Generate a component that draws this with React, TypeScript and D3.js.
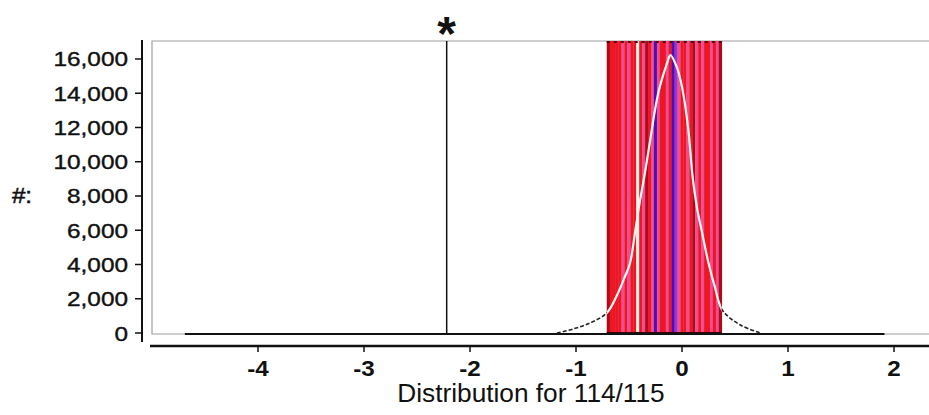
import React from "react";
import * as d3 from "d3";

const xTicks = [-4, -3, -2, -1, 0, 1, 2];
const yTicks = [0, 2000, 4000, 6000, 8000, 10000, 12000, 14000, 16000];

// density curve (value, count)
const densX = [-1.18, -1.03, -0.87, -0.71, -0.62, -0.54, -0.49, -0.44, -0.40, -0.35, -0.30, -0.25, -0.21, -0.14, -0.11, -0.05, 0.0, 0.06, 0.10, 0.14, 0.19, 0.25, 0.31, 0.38, 0.55, 0.74];
const densY = [0, 230, 580, 1170, 2120, 3270, 4090, 6000, 7600, 9340, 11270, 13200, 14370, 15770, 16230, 15540, 14370, 11850, 9110, 7360, 5840, 4090, 2690, 1340, 470, 0];

const bandRange = [-0.71, 0.375];
// stripe colour categories across the band (R red, P pink, D dark red, B blue, M magenta, W white)
const stripes = ["D","R","R","R","R","P","R","P","R","R","W","R","P","D","R","P","B","P","R","R","P","R","B","M","P","R","R","P","R","D","P","R","P","R","R","P","R","P","D"];

const markerValue = -2.22;
const baselineRange = [-4.69, 1.91];

const stripeColor: Record<string, string> = {
  R: "#ec1624",
  P: "#f04c92",
  D: "#b00a18",
  B: "#4a12b4",
  M: "#a030d0",
  W: "#fff6e8",
};

export default function App() {
  const W = 929, H = 415;
  const x = d3.scaleLinear().domain([-5, 2.33]).range([152, 929]);
  const y = d3.scaleLinear().domain([0, 17050]).range([333, 41]);
  const pts: [number, number][] = densX.map((v, i) => [v, densY[i]]);
  const line = d3.line<[number, number]>().x(d => x(d[0])).y(d => y(d[1])).curve(d3.curveCatmullRom);
  const path = line(pts) || "";
  const bx0 = x(bandRange[0]), bx1 = x(bandRange[1]);
  const bw = (bx1 - bx0) / stripes.length;
  const font = "'Liberation Sans', Arial, sans-serif";

  return (
    <svg width={W} height={H} style={{ position: "absolute", left: 0, top: 0, background: "#fff" }} fontFamily={font}>
      <defs>
        <clipPath id="band">
          <rect x={bx0} y={y(17050)} width={bx1 - bx0} height={y(0) - y(17050)} />
        </clipPath>
        <clipPath id="outside">
          <rect x={0} y={0} width={bx0} height={H} />
          <rect x={bx1} y={0} width={W - bx1} height={H} />
        </clipPath>
      </defs>
      {/* plot box */}
      <path d={`M${W + 2},${y(17050)}H${x(-5)}V${y(0) + 1}H${W + 2}`} fill="none" stroke="#a0a0a0" strokeWidth={1.2} />
      {/* band stripes */}
      {stripes.map((c, i) => (
        <rect key={i} x={bx0 + i * bw} y={y(17050)} width={bw + 0.3} height={y(0) - y(17050)} fill={stripeColor[c]} />
      ))}
      <line x1={bx0} x2={bx1} y1={y(17050) + 1} y2={y(17050) + 1} stroke="#5a0010" strokeWidth={2} strokeDasharray="3 4" />
      <line x1={bx0} x2={bx1} y1={y(0)} y2={y(0)} stroke="#3a0008" strokeWidth={2} />
      {/* baseline data line */}
      <line x1={x(baselineRange[0])} x2={x(baselineRange[1])} y1={y(0) + 1} y2={y(0) + 1} stroke="#111" strokeWidth={2} />
      {/* density */}
      <path d={path} fill="none" stroke="#fff8f0" strokeWidth={2.2} clipPath="url(#band)" />
      <path d={path} fill="none" stroke="#222" strokeWidth={1.6} strokeDasharray="4 2" clipPath="url(#outside)" />
      {/* marker */}
      <line x1={x(markerValue)} x2={x(markerValue)} y1={y(17050)} y2={y(0) + 1} stroke="#111" strokeWidth={1.5} />
      <text x={x(markerValue)} y={50} textAnchor="middle" fontSize={48} fontWeight="bold" fill="#111">*</text>
      {/* y axis */}
      <line x1={142} x2={142} y1={40} y2={342} stroke="#111" strokeWidth={2} />
      {yTicks.map(t => (
        <g key={t}>
          <line x1={135} x2={142} y1={y(t)} y2={y(t)} stroke="#111" strokeWidth={1.5} />
          <text transform={`translate(128,${y(t) + 7.5}) scale(1.16,1)`} textAnchor="end" fontSize={21} fill="#111" stroke="#111" strokeWidth={0.4}>{d3.format(",")(t)}</text>
        </g>
      ))}
      <text transform={`translate(22,${y(8000) + 7}) scale(1.1,1)`} textAnchor="middle" fontSize={22} fill="#111" stroke="#111" strokeWidth={0.5}>#:</text>
      {/* x axis */}
      <line x1={150} x2={W} y1={346} y2={346} stroke="#111" strokeWidth={2.5} />
      {xTicks.map(t => (
        <g key={t}>
          <line x1={x(t)} x2={x(t)} y1={346} y2={352} stroke="#111" strokeWidth={1.5} />
          <text transform={`translate(${x(t)},${376}) scale(1.1,1)`} textAnchor="middle" fontSize={22} fontWeight="bold" fill="#111">{t < 0 ? "-" + Math.abs(t) : String(t)}</text>
        </g>
      ))}
      <text transform={`translate(531,402) scale(1.05,1)`} textAnchor="middle" fontSize={25} fill="#111">Distribution for 114/115</text>
    </svg>
  );
}
